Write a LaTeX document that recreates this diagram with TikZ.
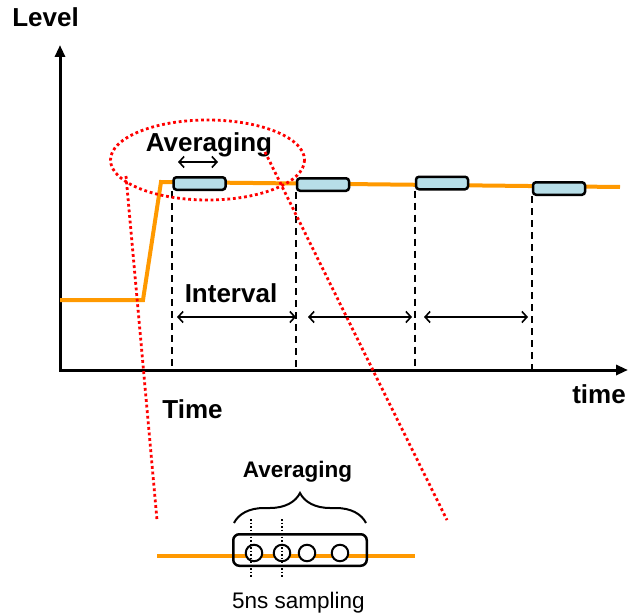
\documentclass[tikz,border=0pt]{standalone}
\usepackage{fontspec}
\setmainfont{Liberation Sans}
\usetikzlibrary{arrows.meta,decorations.pathreplacing}
\definecolor{orng}{HTML}{FF9900}
\definecolor{boxblue}{HTML}{B7DEE8}
\begin{document}
\begin{tikzpicture}[x=1pt,y=-1pt,
  big/.style={font=\bfseries\fontsize{26}{30}\selectfont, inner sep=0pt, anchor=base},
  mid/.style={font=\bfseries\fontsize{22.5}{27}\selectfont, inner sep=0pt, anchor=base},
  reg/.style={font=\fontsize{22.5}{27}\selectfont, inner sep=0pt, anchor=base},
  axisline/.style={line width=3pt, {Triangle[length=12pt,width=10pt]}-{Triangle[length=12pt,width=10pt]}},
  sig/.style={draw=orng, line width=4pt},
  sbox/.style={draw, line width=2.5pt, fill=boxblue, rounded corners=3pt, minimum width=52pt, minimum height=12.5pt, inner sep=0pt},
  vdash/.style={line width=2pt, dash pattern=on 7pt off 5pt},
  iarrow/.style={line width=1.6pt, {Straight Barb[length=5pt,width=11pt]}-{Straight Barb[length=5pt,width=11pt]}},
  reddot/.style={red, line width=2.8pt, dash pattern=on 2.8pt off 2.8pt},
  smalldot/.style={line width=1.5pt, dash pattern=on 1.5pt off 2pt},
  samp/.style={circle, draw, line width=2pt, fill=white, minimum size=16.5pt, inner sep=0pt}]
\useasboundingbox (0,0) rectangle (629,615);
% axes
\coordinate (ytop) at (60,45);
\coordinate (O) at (60,370);
\coordinate (xend) at (628,370);
\draw[axisline] (ytop) -- (O) -- (xend);
% signal
\draw[sig] (60,300) -- (143,300) -- (161,182) -- (620,187);
% sampling boxes
\node[sbox] (b1) at (199.5,183.5) {};
\node[sbox] (b2) at (323,184.5) {};
\node[sbox] (b3) at (442,183) {};
\node[sbox] (b4) at (559,188.5) {};
\foreach \b in {b1,b2,b3,b4}
  \draw[vdash] (\b.south west) -- (\b.south west |- O);
% interval arrows
\coordinate (i1a) at (177,317); \coordinate (i1b) at (296,317);
\coordinate (i2a) at (308,317); \coordinate (i2b) at (412,317);
\coordinate (i3a) at (424,317); \coordinate (i3b) at (528,317);
\draw[iarrow] (i1a) -- (i1b);
\draw[iarrow] (i2a) -- (i2b);
\draw[iarrow] (i3a) -- (i3b);
\coordinate (aa) at (178,162); \coordinate (ab) at (218,162);
\draw[iarrow] (aa) -- (ab);
% labels
\node[big] (lvl) at (45.5,27) {Level};
\node[big] (tm) at (599,403) {time};
\node[big] (Tm) at (192.5,418) {Time};
\node[big] (intv) at (231,302) {Interval};
\node[big] (avg1) at (209,152) {Averaging};
% zoom detail
\draw[orng, line width=4pt] (157,556) -- (415,556);
\draw[line width=2.5pt, rounded corners=6pt] (233.25,534.25) rectangle (366.75,565.75);
\node[samp] (c1) at (254,553) {};
\node[samp] (c2) at (282,553) {};
\node[samp] (c3) at (307,553) {};
\node[samp] (c4) at (340,553) {};
\coordinate (d1t) at (251,519); \coordinate (d1b) at (251,578);
\coordinate (d2t) at (282,519); \coordinate (d2b) at (282,578);
\draw[smalldot] (d1t) -- (d1b);
\draw[smalldot] (d2t) -- (d2b);
\draw[line width=2pt, decorate, decoration={brace, amplitude=30pt, aspect=0.5}] (234,523) -- (366,523);
\node[mid] (avg2) at (297.5,477) {Averaging};
\node[reg] (samp) at (298.5,608) {5ns sampling};
% red zoom markers
\draw[reddot] (207.5,160) ellipse [x radius=97, y radius=40];
\coordinate (l1) at (126,176); \coordinate (l2) at (157,520);
\coordinate (r1) at (265,152); \coordinate (r2) at (447,520);
\draw[reddot] (l1) -- (l2);
\draw[reddot] (r1) -- (r2);
\end{tikzpicture}
\end{document}
